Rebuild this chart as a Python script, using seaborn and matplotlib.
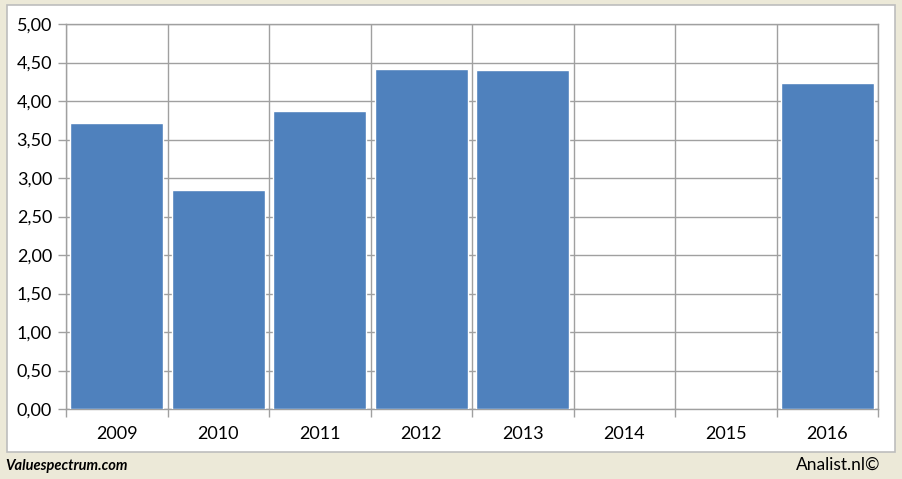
import matplotlib
matplotlib.use('Agg')
import matplotlib.pyplot as plt
import matplotlib.patches as mpatches
from matplotlib.ticker import FixedLocator, FuncFormatter
import seaborn as sns
import pandas as pd

jaren = ['2009', '2010', '2011', '2012', '2013', '2014', '2015', '2016']
waarden = [3.72, 2.85, 3.87, 4.41, 4.40, 0.0, 0.0, 4.24]

KLEUR_BALK = '#4F81BD'
KLEUR_GRID = '#A0A0A0'
KLEUR_FOND = '#ECE9D8'

sns.set_style('white')
plt.rcParams['font.family'] = ['Lato', 'DejaVu Sans']

df = pd.DataFrame({'jaar': jaren, 'waarde': waarden})

fig = plt.figure(figsize=(9.03, 4.79), dpi=100, facecolor=KLEUR_FOND)
paneel = mpatches.Rectangle((7 / 903, 1 - 452 / 479), 888 / 903, 447 / 479,
                            transform=fig.transFigure, facecolor='white',
                            edgecolor='#BDBDBD', linewidth=1.2, zorder=-10)
fig.patches.append(paneel)

ax = fig.add_axes([66 / 903, 1 - 409 / 479, 812 / 903, 385 / 479], zorder=1)
sns.barplot(data=df, x='jaar', y='waarde', color=KLEUR_BALK, saturation=1,
            width=0.92, ax=ax, zorder=3)

ax.set_ylim(0, 5)
ax.set_xlim(-0.5, len(jaren) - 0.5)
ax.set_yticks([i * 0.5 for i in range(11)])
ax.yaxis.set_major_formatter(FuncFormatter(lambda v, p: f'{v:.2f}'.replace('.', ',')))
ax.xaxis.set_minor_locator(FixedLocator([i - 0.5 for i in range(len(jaren) + 1)]))

ax.grid(True, axis='y', which='major', color=KLEUR_GRID, linewidth=1, zorder=0)
ax.grid(True, axis='x', which='minor', color=KLEUR_GRID, linewidth=1, zorder=0)
ax.set_axisbelow(True)

for s in ax.spines.values():
    s.set_color(KLEUR_GRID)
    s.set_linewidth(1)

ax.tick_params(axis='y', which='major', left=True, length=6, width=1, color=KLEUR_GRID,
               labelsize=13, pad=4, labelcolor='black')
ax.tick_params(axis='x', which='major', bottom=False, labelsize=13, pad=9, labelcolor='black')
ax.tick_params(axis='x', which='minor', bottom=True, length=6, width=1, color=KLEUR_GRID)

ax.set_xlabel('')
ax.set_ylabel('')

fig.text(5 / 903, 1 - 466 / 479, 'Valuespectrum.com', fontsize=10.5, fontweight='bold',
         fontstyle='italic', ha='left', va='center', color='black')
fig.text(880 / 903, 1 - 465 / 479, 'Analist.nl©', fontsize=12.5, ha='right',
         va='center', color='black')

fig.savefig('out.png', dpi=100, facecolor=KLEUR_FOND)
